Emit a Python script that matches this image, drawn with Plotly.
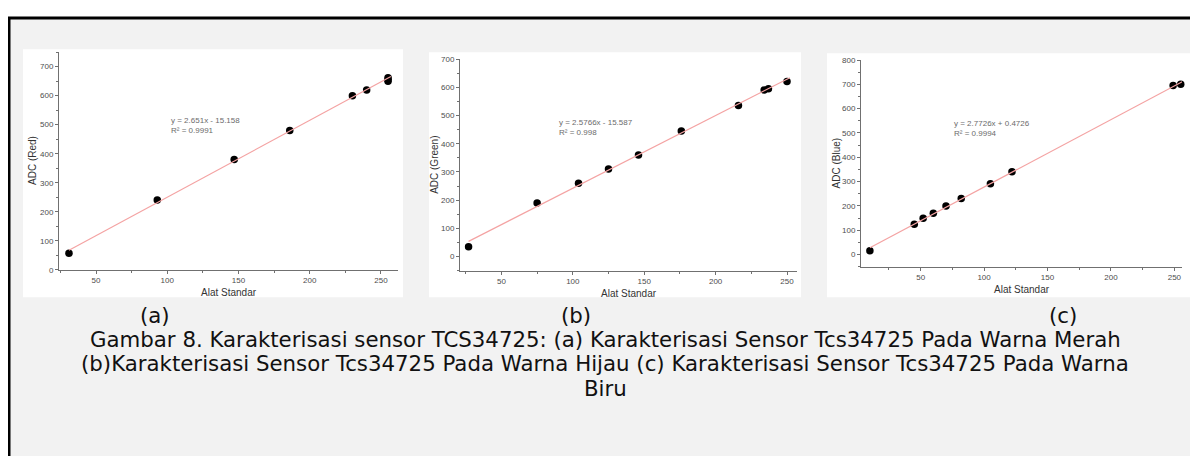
import plotly.graph_objects as go

# page body has an 8px margin; the figure covers the rest of the 1198x456 window
OFF = 8
W, H = 1198 - OFF, 456 - OFF

# ---------------- data ----------------
red_x = [31, 93, 147, 186, 230, 240, 255, 255, 255]
red_y = [57, 240, 380, 480, 600, 620, 650, 656, 662]
red_slope, red_icpt = 2.651, -15.158
red_eq = ["y = 2.651x - 15.158", "R² = 0.9991"]

green_x = [27, 75, 104, 125, 146, 176, 216, 234, 237, 250]
green_y = [35, 190, 260, 310, 360, 445, 535, 590, 595, 620]
green_slope, green_icpt = 2.5766, -15.587
green_eq = ["y = 2.5766x - 15.587", "R² = 0.998"]

blue_x = [10, 45, 52, 60, 70, 82, 105, 122, 249, 255]
blue_y = [16, 125, 150, 170, 200, 231, 291, 341, 695, 700]
blue_slope, blue_icpt = 2.7726, 0.4726
blue_eq = ["y = 2.7726x + 0.4726", "R² = 0.9994"]

y_titles = ["ADC (Red)", "ADC (Green)", "ADC (Blue)"]
x_title = "Alat Standar"
panel_labels = ["(a)", "(b)", "(c)"]
caption_lines = [
    "Gambar 8. Karakterisasi sensor TCS34725: (a) Karakterisasi Sensor Tcs34725 Pada Warna Merah",
    "(b)Karakterisasi Sensor Tcs34725 Pada Warna Hijau (c) Karakterisasi Sensor Tcs34725 Pada Warna",
    "Biru",
]

# ---------------- layout helpers (window pixel -> paper) ----------------
def px(x):
    return (x - OFF) / W

def py(y):
    return 1 - (y - OFF) / H

panels = [
    dict(x=red_x, y=red_y, m=red_slope, b=red_icpt, eq=red_eq, xr=[24, 262], yr=[0, 750],
         dom_x=(59, 398), dom_y=(49, 271), white=(23, 46, 403, 299), eqpos=(169, 124),
         ytitle_x=33, xtitle_y=294, lab_x=155),
    dict(x=green_x, y=green_y, m=green_slope, b=green_icpt, eq=green_eq, xr=[21, 257], yr=[-50, 700],
         dom_x=(460, 797), dom_y=(56, 272), white=(429, 49, 801, 299), eqpos=(557, 126),
         ytitle_x=435, xtitle_y=295, lab_x=576),
    dict(x=blue_x, y=blue_y, m=blue_slope, b=blue_icpt, eq=blue_eq, xr=[3, 256], yr=[-50, 800],
         dom_x=(861, 1182), dom_y=(57, 268), white=(827, 50, 1210, 299), eqpos=(952, 127),
         ytitle_x=836, xtitle_y=291, lab_x=1063),
]

fig = go.Figure()
shapes = []
annotations = []

# gray page area with black frame
shapes.append(dict(type="rect", xref="paper", yref="paper",
                   x0=px(9), x1=px(1230), y0=py(14), y1=py(490),
                   fillcolor="#f2f2f2", line=dict(color="black", width=3), layer="below"))

axis_font = dict(family="Liberation Sans, Arial, sans-serif", size=8, color="#4d4d4d")
title_font = dict(family="Liberation Sans, Arial, sans-serif", size=10, color="#333333")
cap_font = dict(family="DejaVu Sans, sans-serif", size=21.3, color="#111111")

for i, p in enumerate(panels, start=1):
    xa = "x" if i == 1 else f"x{i}"
    ya = "y" if i == 1 else f"y{i}"
    x0w, y0w, x1w, y1w = p["white"]
    shapes.append(dict(type="rect", xref="paper", yref="paper",
                       x0=px(x0w), x1=px(x1w), y0=py(y1w), y1=py(y0w),
                       fillcolor="white", line=dict(width=0), layer="below"))
    # data points
    fig.add_trace(go.Scatter(x=p["x"], y=p["y"], mode="markers", xaxis=xa, yaxis=ya,
                             marker=dict(color="black", size=7.5), showlegend=False,
                             cliponaxis=False))
    # trendline
    xs = [min(p["x"]), max(p["x"]) + 2]
    ys = [p["m"] * v + p["b"] for v in xs]
    fig.add_trace(go.Scatter(x=xs, y=ys, mode="lines", xaxis=xa, yaxis=ya,
                             line=dict(color="#f4a3a3", width=1.2), showlegend=False))
    axkw = dict(showgrid=False, zeroline=False, showline=True, linecolor="#707070", linewidth=1,
                ticks="outside", ticklen=3, tickcolor="#707070", tickfont=axis_font, mirror=False)
    fig.layout[f"xaxis{'' if i == 1 else i}"] = dict(
        domain=[px(p["dom_x"][0]), px(p["dom_x"][1])], range=p["xr"], anchor=ya,
        dtick=50, tick0=0, minor=dict(ticks="outside", ticklen=2, dtick=25, tick0=0, tickcolor="#707070"),
        **axkw)
    fig.layout[f"yaxis{'' if i == 1 else i}"] = dict(
        domain=[py(p["dom_y"][1]), py(p["dom_y"][0])], range=p["yr"], anchor=xa,
        dtick=100, tick0=0, minor=dict(ticks="outside", ticklen=2, dtick=50, tick0=0, tickcolor="#707070"),
        **axkw)
    # equation
    annotations.append(dict(xref="paper", yref="paper", x=px(p["eqpos"][0]), y=py(p["eqpos"][1]),
                            text="<br>".join(p["eq"]), showarrow=False, xanchor="left", yanchor="middle",
                            align="left", font=dict(family="Liberation Sans, Arial, sans-serif", size=8,
                                                    color="#6b6b6b")))
    # axis titles
    cy = (p["dom_y"][0] + p["dom_y"][1]) / 2
    annotations.append(dict(xref="paper", yref="paper", x=px(p["ytitle_x"]), y=py(cy),
                            text=y_titles[i - 1], textangle=-90, showarrow=False,
                            xanchor="center", yanchor="middle", font=title_font))
    cx = (p["dom_x"][0] + p["dom_x"][1]) / 2
    annotations.append(dict(xref="paper", yref="paper", x=px(cx), y=py(p["xtitle_y"]),
                            text=x_title, showarrow=False, xanchor="center", yanchor="middle",
                            font=title_font))
    # panel label
    annotations.append(dict(xref="paper", yref="paper", x=px(p["lab_x"]), y=py(318),
                            text=panel_labels[i - 1], showarrow=False, xanchor="center",
                            yanchor="middle", font=cap_font))

for k, line in enumerate(caption_lines):
    annotations.append(dict(xref="paper", yref="paper", x=px(605), y=py(342 + 25 * k),
                            text=line, showarrow=False, xanchor="center", yanchor="middle",
                            font=cap_font))

fig.update_layout(width=W, height=H, margin=dict(l=0, r=0, t=0, b=0),
                  paper_bgcolor="white", plot_bgcolor="rgba(0,0,0,0)",
                  shapes=shapes, annotations=annotations)

fig.write_html("out.html", config={"displayModeBar": False})
